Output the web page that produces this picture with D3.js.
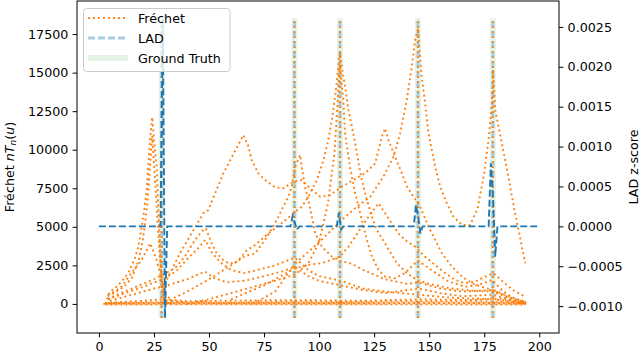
<!DOCTYPE html>
<html>
<head>
<meta charset="utf-8">
<script src="https://cdn.jsdelivr.net/npm/d3@7"></script>
<style>
body { margin: 0; background: #fff; }
svg { font-family: "DejaVu Sans", sans-serif; display: block; }
</style>
</head>
<body>
<div id="chart"></div>
<script>

// ground truth change points
var groundTruth = [28.5, 88.8, 109.5, 144.9, 178.9];

var xTicks = [0, 25, 50, 75, 100, 125, 150, 175, 200];
var leftTicks = [0, 2500, 5000, 7500, 10000, 12500, 15000, 17500];
var rightTicks = [-0.001, -0.0005, 0, 0.0005, 0.001, 0.0015, 0.002, 0.0025];

// LAD z-score (x, value)
var lad = [[0,0],[28,0],[29,0.00261],[30,-0.00115],[31,0],
	[87,0],[88,0.00013],[89,0.00004],[90,-0.00004],[91,0],
	[108,0],[109,0.00017],[110,-0.00004],[111,0],
	[143,0],[144,0.00027],[145,0.00012],[146,-0.00009],[147,0],
	[177,0],[178,0.00079],[179,0.00035],[180,-0.00038],[181,0],[199,0]];
var ladSpan = [-0.00115, 0.00261];

// Frechet nT_n(u) curves (x, value)
var frA = [[3,0],[5,800],[7.3,1020],[10.3,1450],[13.3,2000],[16,2850],[17.9,3700],[19.4,5000],[20.6,6100],[21.7,7400],[22.4,8900],[23.2,10600],[24.2,12100],[25.2,10400],[26.2,8900],[27,6100],[27.8,3500],[28.5,1200],[29.5,150],[32,0]];
var frA2 = [[4,500],[8,800],[12,1200],[15,1700],[18,2800],[20,4200],[22,6500],[23.5,9500],[24.2,10900],[25.5,8000],[27,4500],[28.5,1500],[30,300],[33,0]];
var frB = [[4,600],[7,800],[10.3,1120],[14.8,2000],[19.4,2850],[23.3,3930],[26.2,2850],[28.5,1560],[30.5,600],[33,200],[40,100]];
var frC = [[29,0],[30,1340],[36.8,3280],[42.1,4580],[47.4,5880],[49.7,6090],[56.5,8470],[65.6,10950],[67.7,10300],[69.4,9330],[72.4,8470],[75.5,8040],[80,7560],[84,7500],[88.3,7930],[92.1,8040],[95.9,7500],[100.5,6950],[105,7060],[110.3,7600],[115.6,8040],[120.9,8470],[125.5,9120],[128.5,10850],[130,11390],[131.5,10630],[134.5,9550],[137.6,8470],[139.9,7600],[142.9,6950],[145.9,6300],[149.7,5010],[152.7,4150],[155.8,3280],[160.3,2420],[164.9,1770],[169.4,1340],[174,1100],[179,900],[185,500],[190,250],[194,50]];
var frD = [[3,0],[5,400],[10,700],[15,1000],[20,1300],[25,1600],[29,1900],[34.5,2300],[39,3070],[43.6,4150],[47.4,4800],[48.6,4900],[51.2,3930],[53.5,3280],[56.5,2850],[58.8,2640],[61.8,2640],[64.9,3070],[66.4,3390],[70.9,3820],[77,4580],[83,5230],[88.5,5900],[92.1,6300],[95.1,6950],[99,8040],[102,9330],[104.2,10630],[105.8,11930],[107.6,13800],[109.4,16300],[110.3,15380],[111.8,14090],[113.3,12580],[114.9,11490],[116.4,10420],[117.9,9120],[119.4,8040],[121.7,6740],[124,5660],[126.2,4800],[130.8,3720],[135.3,2640],[139.9,1990],[144.4,1560],[150,1300],[160,1000],[170,850],[179,800],[186,400],[194,100]];
var frE = [[40,0],[50,300],[60,700],[70,1100],[80,1500],[89,1900],[95,2600],[100,4000],[104,6500],[107,9800],[109.4,15500],[111,13220],[111.8,11060],[114,8900],[116.4,7170],[119.4,5440],[121.7,4150],[124,3070],[127,2200],[130,1770],[134.5,1670],[139,2000],[143.6,2640],[145,2800],[151,2200],[158.8,1450],[166.4,1120],[172.4,1230],[178.5,1560],[183,900],[188,400],[194,100]];
var frF = [[70,0],[80,800],[89,2600],[100,4000],[110,5400],[117.1,6300],[123.2,6950],[129.2,8250],[133.8,9550],[136.8,11060],[139.8,13220],[142.1,15380],[143.6,17100],[144.9,17900],[146.5,14800],[148,13200],[149.7,11060],[151.2,9980],[152.7,8900],[155,7600],[158,6530],[161,5660],[164.9,5120],[168.6,5120],[172,6200],[175,8500],[177,10700],[178.5,13000],[179,15200],[180,12570],[181.5,11490],[183,10420],[184.5,9330],[186,8250],[187.6,6950],[189,5880],[190.6,4800],[192.1,3720],[193.6,2640]];
var frG = [[60,300],[75,1200],[89,2300],[95.1,2530],[101.2,2640],[109.5,3070],[113.3,3720],[116.4,4360],[119.4,5010],[122.4,5660],[127,6530],[130,5880],[133,5230],[136,4580],[139,4150],[143.6,3720],[148,3070],[152.7,2530],[157.3,1990],[161.8,1560],[166.4,1340],[170.9,1450],[175.5,1770],[179.2,1990],[183,1500],[188,900],[193.6,470]];
var frH = [[4,300],[10,600],[20,1100],[29,1600],[35,2100],[40,2900],[45,3600],[48.3,4150],[51,3400],[55,2700],[60,2200],[66,2000],[72,2200],[80,2500],[89,3000],[95,2200],[100,1800],[110,1500],[120,1000],[130,800],[145,600],[160,400],[179,300],[194,50]];
var frI = [[5,200],[15,600],[25,1000],[30,1150],[40,1600],[48.2,2100],[52,1700],[58,1400],[66,1500],[75,1800],[83,2100],[89,2400],[95,1800],[100,1500],[110,1200],[120,900],[130,700],[145,1000],[155,700],[165,500],[179,600],[186,300],[194,0]];
var frK = [[30,100],[40,800],[50,1600],[60,2500],[66.4,3100],[70.9,3280],[75.5,4150],[80,5230],[83,6090],[86,6950],[87.6,7600],[89.1,8900],[91.4,9660],[92.1,8900],[93.6,7600],[95.1,6740],[96.7,5660],[98.2,4580],[101.2,3720],[105.8,3070],[109.5,2800],[115,2600],[120,2200],[130,1600],[140,1300],[145,1400],[155,1000],[165,800],[179,900],[186,500],[194,100]];
var frBase1 = [[2,0],[29,20],[89,30],[110,20],[145,40],[179,30],[194,0]];
var frBase2 = [[3,40],[29,120],[60,60],[89,150],[110,120],[145,180],[179,150],[194,40]];
var frBase3 = [[5,80],[20,200],[29,300],[40,180],[89,250],[120,200],[145,300],[170,250],[179,350],[194,100]];
var frBase4 = [[3,-40],[40,-30],[89,-20],[145,-30],[194,-40]];
var frBase5 = [[4,60],[30,60],[70,90],[100,70],[150,90],[194,60]];

var frechetCurves = [frBase1, frBase2, frBase3, frBase4, frBase5, frA, frA2, frB, frC, frD, frE, frF, frG, frH, frI, frK];

var width = 640, height = 353;
var plotL = 77, plotR = 559, plotT = 1, plotB = 333;

var svg = d3.select("#chart").append("svg")
	.attr("width", width)
	.attr("height", height);

var x = d3.scaleLinear().domain([-9.95, 208.95]).range([plotL, plotR]);
var yL = d3.scaleLinear().domain([-1886, 19646]).range([plotB, plotT]);
var yR = d3.scaleLinear().domain([-0.001337, 0.002825]).range([plotB, plotT]);

svg.append("clipPath").attr("id", "clip")
	.append("rect").attr("x", plotL).attr("y", plotT).attr("width", plotR - plotL).attr("height", plotB - plotT);

var plot = svg.append("g").attr("clip-path", "url(#clip)");

// ground truth bands and marker lines
plot.selectAll(".gt").data(groundTruth).enter().append("line")
	.attr("x1", d => x(d)).attr("x2", d => x(d))
	.attr("y1", yR(ladSpan[0])).attr("y2", yR(ladSpan[1]))
	.attr("stroke", "#2ca02c").attr("stroke-opacity", 0.12).attr("stroke-width", 6);
plot.selectAll(".gtl").data(groundTruth).enter().append("line")
	.attr("x1", d => x(d)).attr("x2", d => x(d))
	.attr("y1", yR(ladSpan[0])).attr("y2", yR(ladSpan[1]))
	.attr("stroke", "#a6cee3").attr("stroke-width", 3).attr("stroke-dasharray", "7,3");
plot.selectAll(".gtf").data(groundTruth).enter().append("line")
	.attr("x1", d => x(d)).attr("x2", d => x(d))
	.attr("y1", yR(ladSpan[0])).attr("y2", yR(ladSpan[1]))
	.attr("stroke", "#ff7f0e").attr("stroke-width", 1.9).attr("stroke-dasharray", "1.9,3.1");

var frLine = d3.line().x(d => x(d[0])).y(d => yL(d[1]));
plot.selectAll(".fr").data(frechetCurves).enter().append("path")
	.attr("d", frLine)
	.attr("fill", "none")
	.attr("stroke", "#ff7f0e")
	.attr("stroke-width", 1.9)
	.attr("stroke-dasharray", "1.9,3.1");

var ladLine = d3.line().x(d => x(d[0])).y(d => yR(d[1]));
plot.append("path").datum(lad)
	.attr("d", ladLine)
	.attr("fill", "none")
	.attr("stroke", "#1f77b4")
	.attr("stroke-width", 1.9)
	.attr("stroke-dasharray", "7,3");

// axes
var xAxis = d3.axisBottom(x).tickValues(xTicks).tickSize(4.4).tickPadding(4.2).tickFormat(d3.format("d"));
var lAxis = d3.axisLeft(yL).tickValues(leftTicks).tickSize(4.4).tickPadding(4.2).tickFormat(d3.format("d"));
var rAxis = d3.axisRight(yR).tickValues(rightTicks).tickSize(4.4).tickPadding(4.2)
	.tickFormat(d => d3.format(".4f")(d).replace("-", "\u2212"));

var gx = svg.append("g").attr("transform", "translate(0," + plotB + ")").call(xAxis);
var gl = svg.append("g").attr("transform", "translate(" + plotL + ",0)").call(lAxis);
var gr = svg.append("g").attr("transform", "translate(" + plotR + ",0)").call(rAxis);
[gx, gl, gr].forEach(function(g) {
	g.select(".domain").remove();
	g.selectAll("text").attr("font-size", 12.7).attr("font-family", "DejaVu Sans").attr("fill", "#000");
	g.selectAll("line").attr("stroke", "#000");
});

svg.append("rect")
	.attr("x", plotL).attr("y", plotT).attr("width", plotR - plotL).attr("height", plotB - plotT)
	.attr("fill", "none").attr("stroke", "#000").attr("stroke-width", 1);

// axis labels
var ll = svg.append("text")
	.attr("transform", "translate(13.5," + ((plotT + plotB) / 2) + ") rotate(-90)")
	.attr("text-anchor", "middle").attr("font-size", 12.7);
ll.append("tspan").text("Fréchet ");
ll.append("tspan").attr("font-style", "italic").text("nT");
ll.append("tspan").attr("font-style", "italic").attr("font-size", 9).attr("dy", 2.5).text("n");
ll.append("tspan").attr("dy", -2.5).text("(");
ll.append("tspan").attr("font-style", "italic").text("u");
ll.append("tspan").text(")");

svg.append("text")
	.attr("transform", "translate(637.5," + ((plotT + plotB) / 2) + ") rotate(-90)")
	.attr("text-anchor", "middle").attr("font-size", 12.7)
	.text("LAD z-score");

// legend
var lg = svg.append("g");
lg.append("rect").attr("x", 83.5).attr("y", 8.5).attr("width", 146.5).attr("height", 63)
	.attr("rx", 3).attr("fill", "#fff").attr("fill-opacity", 0.8).attr("stroke", "#ccc");
var legendItems = [
	{label: "Fréchet", stroke: "#ff7f0e", w: 1.9, dash: "1.9,3.1", op: 1},
	{label: "LAD", stroke: "#a6cee3", w: 3, dash: "7,3", op: 1},
	{label: "Ground Truth", stroke: "#2ca02c", w: 6, dash: null, op: 0.12}
];
legendItems.forEach(function(it, i) {
	var yy = 18 + i * 20;
	lg.append("line").attr("x1", 88).attr("x2", 128).attr("y1", yy).attr("y2", yy)
		.attr("stroke", it.stroke).attr("stroke-width", it.w)
		.attr("stroke-dasharray", it.dash).attr("stroke-opacity", it.op);
	lg.append("text").attr("x", 138).attr("y", yy).attr("dy", "0.36em")
		.attr("font-size", 12.7).text(it.label);
});

</script>
</body>
</html>
